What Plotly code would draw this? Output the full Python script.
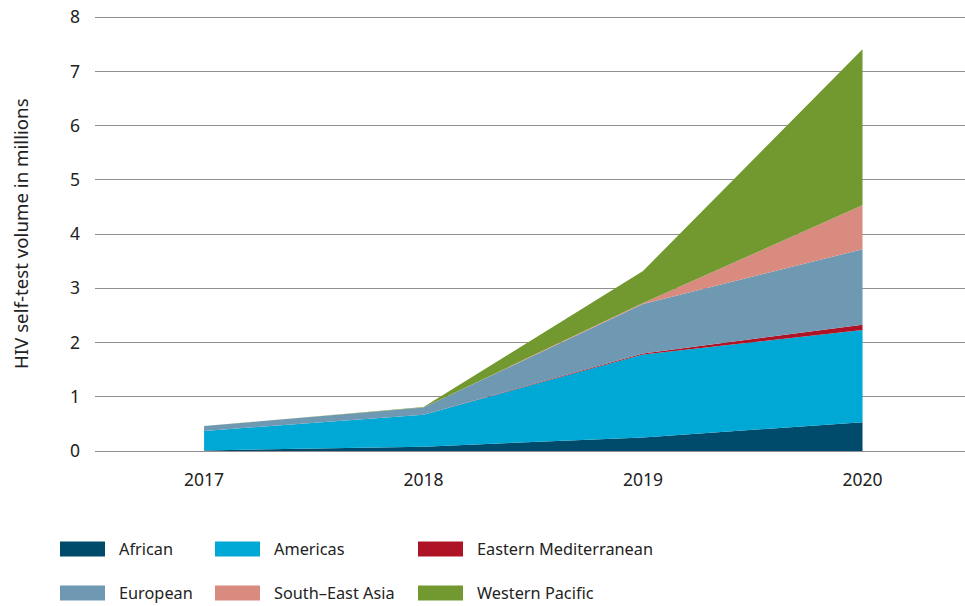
import plotly.graph_objects as go

years = [2017, 2018, 2019, 2020]
african = [0.01, 0.08, 0.25, 0.53]
americas = [0.36, 0.59, 1.53, 1.70]
eastern_med = [0.0, 0.0, 0.02, 0.10]
european = [0.09, 0.13, 0.91, 1.39]
south_east_asia = [0.0, 0.0, 0.02, 0.81]
western_pacific = [0.0, 0.01, 0.59, 2.88]

names = ["African", "Americas", "Eastern Mediterranean", "European", "South\u2013East Asia", "Western Pacific"]
series = [african, americas, eastern_med, european, south_east_asia, western_pacific]
colors = ["#004b6b", "#00a8d6", "#ae1425", "#6f98b3", "#d88b7e", "#72992f"]

y_ticks = [0, 1, 2, 3, 4, 5, 6, 7, 8]
y_title = "HIV self-test volume in millions"

FONT = "Noto Sans"
OFF = 0  # body margin removed via post_script
W, H = 965, 606
Y_TOP = 8.04
# target: value 0 at screen y 451, value 8 at screen y 17; plot x 95..965
unit = (451 - 17) / 8.0
top_screen = 451 - Y_TOP * unit
L, T = 95 - OFF, top_screen - OFF
R = OFF
B = H - (451 - OFF)

fig = go.Figure()
for name, vals, col in zip(names, series, colors):
    fig.add_trace(go.Scatter(
        x=years, y=vals, name=name, mode="lines",
        stackgroup="one", line=dict(width=0, color=col),
        fillcolor=col, showlegend=False, hoverinfo="x+y+name",
    ))

pw, ph = W - L - R, H - T - B
def px(x):  # screen px -> paper
    return (x - OFF - L) / pw
def py(y):
    return (H - B - (y - OFF)) / ph

col_x = [60, 215, 418]
row_y = [549, 593]
shapes = []
annotations = []
for i, (name, col) in enumerate(zip(names, colors)):
    cx = col_x[i % 3]
    cy = row_y[i // 3]
    shapes.append(dict(type="rect", xref="paper", yref="paper",
                       x0=px(cx), x1=px(cx + 45), y0=py(cy + 7.5), y1=py(cy - 7.5),
                       fillcolor=col, line=dict(width=0)))
    annotations.append(dict(xref="paper", yref="paper", x=px(cx + 57), y=py(cy),
                            text=name, showarrow=False, xanchor="left", yanchor="middle",
                            font=dict(family=FONT, size=16.3, color="#222222")))

annotations.append(dict(xref="paper", yref="paper", x=px(20), y=py(234),
                        text=y_title, showarrow=False, textangle=-90,
                        xanchor="center", yanchor="middle",
                        font=dict(family=FONT, size=18.7, color="#222222")))

fig.update_layout(
    width=W, height=H,
    margin=dict(l=L, r=R, t=T, b=B, pad=0, autoexpand=False),
    paper_bgcolor="white", plot_bgcolor="white",
    font=dict(family=FONT, size=17, color="#222222"),
    showlegend=False,
    shapes=shapes, annotations=annotations,
    xaxis=dict(
        range=[2016.503, 2020.467], tickvals=years, ticktext=[str(y) for y in years],
        showgrid=False, zeroline=False, showline=True, linecolor="#8f8f8f", linewidth=1,
        ticks="", ticklabelstandoff=13, tickfont=dict(size=17.5), automargin=False,
    ),
    yaxis=dict(
        range=[0, Y_TOP], tickvals=y_ticks, showgrid=True, gridcolor="#8f8f8f", gridwidth=1,
        zeroline=False, showline=False, ticks="", ticklabelstandoff=14,
        ticklabeloverflow="allow", tickfont=dict(size=17.5), automargin=False,
    ),
)

fig.write_html("out.html", config={"displayModeBar": False},
               post_script="document.body.style.margin='0';document.body.style.overflow='hidden';")
